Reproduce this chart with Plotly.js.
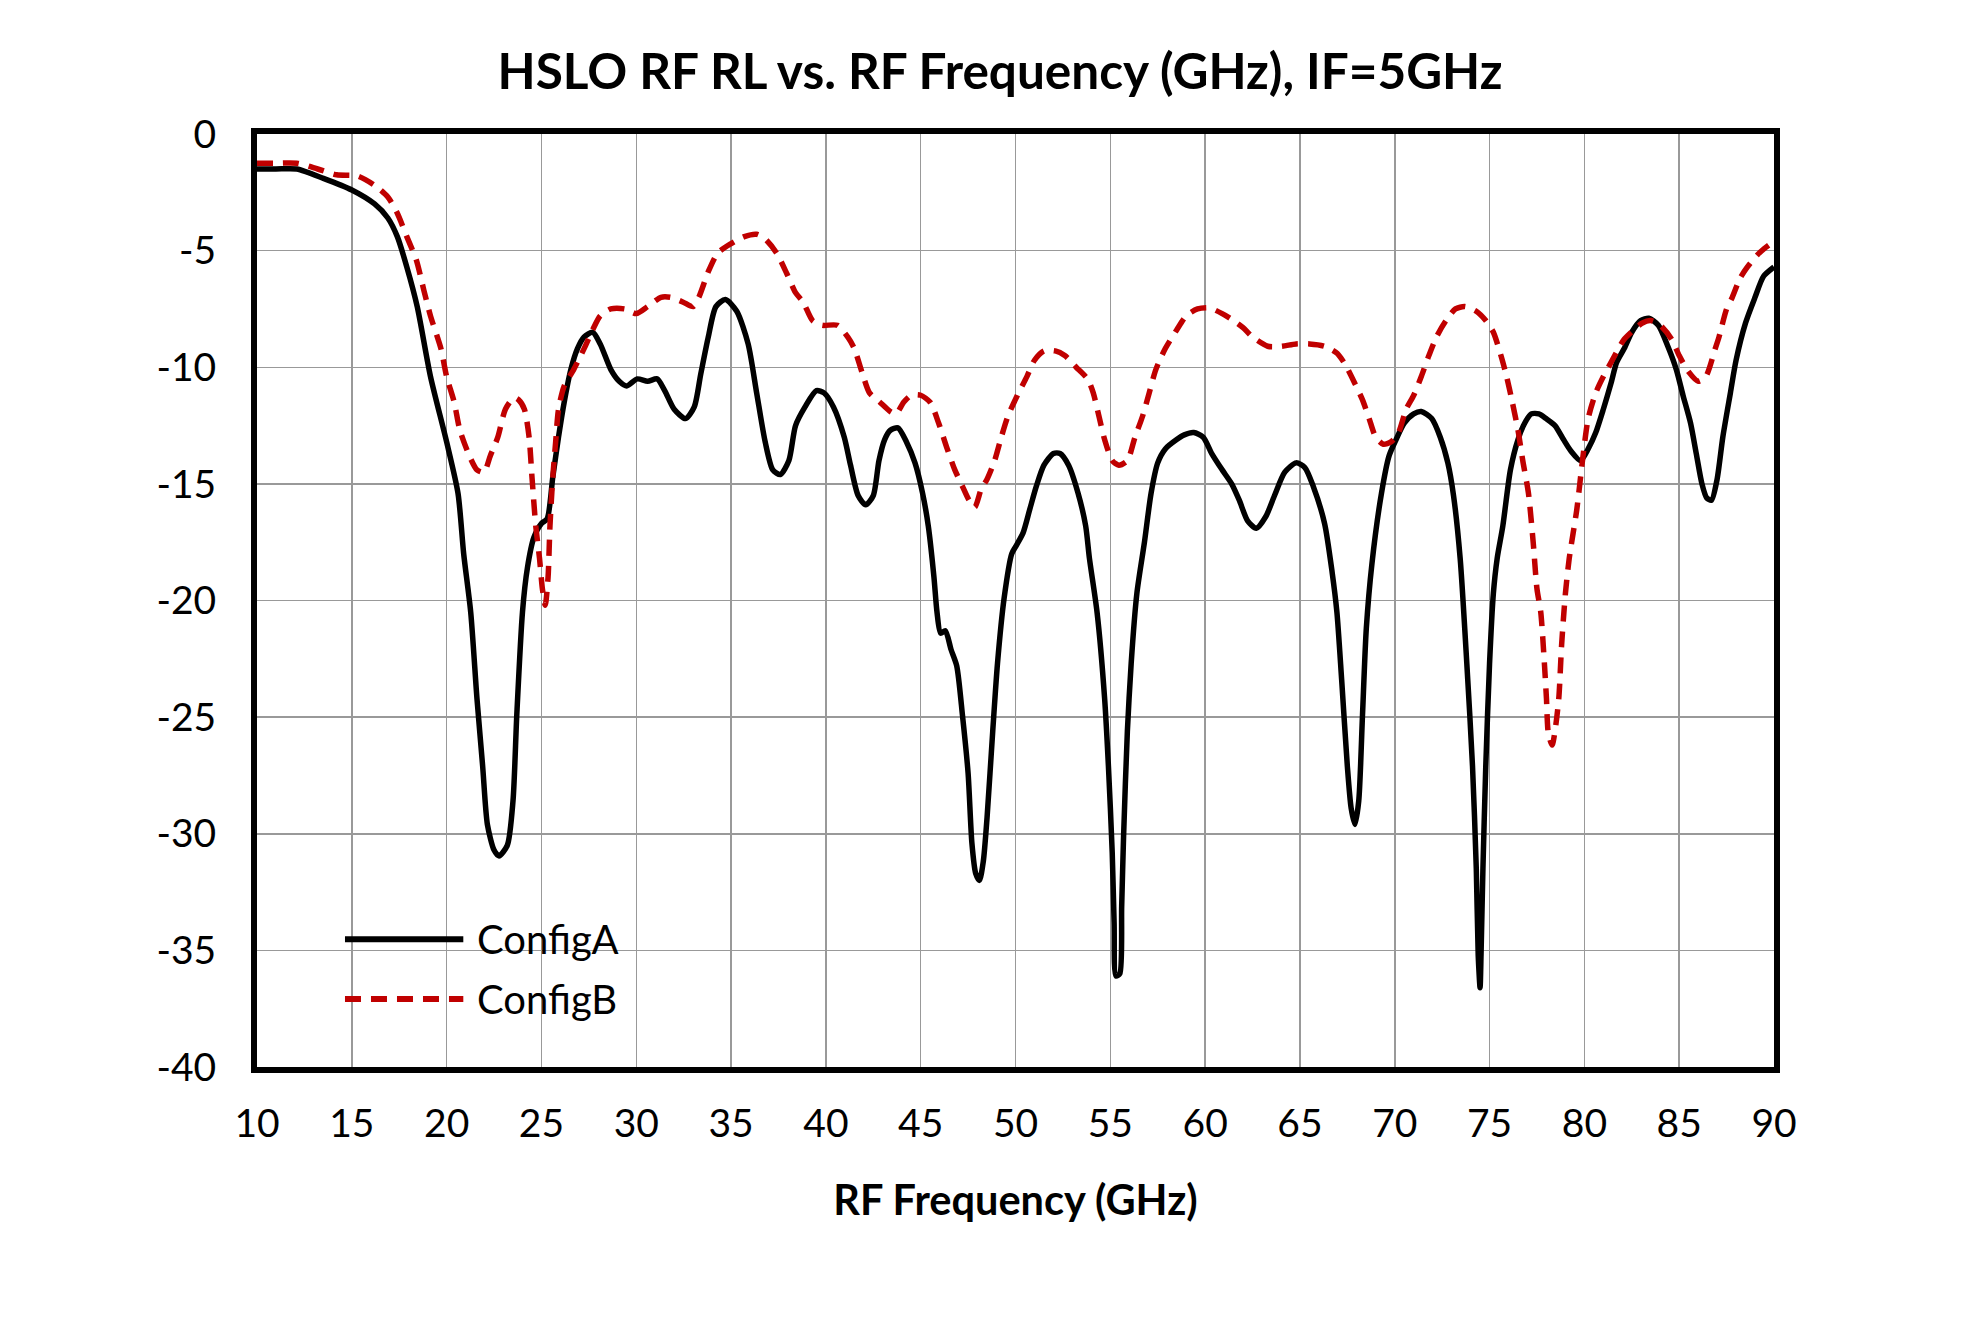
<!DOCTYPE html>
<html>
<head>
<meta charset="utf-8">
<script src="https://cdn.plot.ly/plotly-3.0.1.min.js"></script>
<style>
  html, body { margin: 0; padding: 0; background: #ffffff; }
  #chart { width: 1980px; height: 1320px; }
</style>
</head>
<body>
<div id="chart"></div>
<script>
// RF return loss of the HSLO mixer, two configurations, IF = 5 GHz
const freqA = [10, 11, 12.1, 13.5, 15, 16.2, 16.9, 17.4, 17.9, 18.45, 19.15, 20.0, 20.6, 20.9, 21.27, 21.6, 21.9, 22.15, 22.5, 22.76,
  23.2, 23.5, 23.7, 24.0, 24.26, 24.6, 25.0, 25.3, 25.6, 25.9, 26.2, 26.55, 26.9, 27.25, 27.7, 28.1, 28.66, 29.1, 29.5, 30.05,
  30.6, 31.1, 31.5, 32.0, 32.6, 33.06, 33.4, 33.8, 34.2, 34.7, 35.3, 35.9, 36.35, 36.8, 37.2, 37.6, 38.05, 38.4, 38.9, 39.5,
  39.9, 40.4, 40.97, 41.3, 41.7, 42.1, 42.5, 42.8, 43.1, 43.4, 43.8, 44.25, 44.7, 45.1, 45.4, 45.7, 45.86, 46.05, 46.3, 46.6,
  46.9, 47.2, 47.5, 47.7, 47.9, 48.1, 48.3, 48.5, 48.8, 49.05, 49.4, 49.8, 50.0, 50.4, 50.75, 51.1, 51.5, 52.0, 52.35, 52.8,
  53.3, 53.7, 53.9, 54.3, 54.7, 54.9, 55.1, 55.2, 55.3, 55.5, 55.6, 55.7, 55.9, 56.1, 56.4, 56.8, 57.15, 57.5, 57.9, 58.5,
  58.9, 59.4, 59.9, 60.35, 60.9, 61.4, 61.8, 62.25, 62.7, 63.2, 63.66, 64.2, 64.8, 65.26, 65.7, 66.3, 66.7, 66.95, 67.2, 67.5,
  67.7, 67.9, 68.1, 68.3, 68.5, 68.8, 69.3, 69.7, 70.07, 70.5, 71.0, 71.4, 71.95, 72.4, 72.8, 73.1, 73.45, 73.8, 74.1, 74.3,
  74.4, 74.5, 74.55, 74.65, 74.8, 75.0, 75.2, 75.4, 75.7, 76.1, 76.5, 76.85, 77.2, 77.6, 77.98, 78.45, 78.9, 79.3, 79.8, 80.2,
  80.6, 81.0, 81.4, 81.7, 82.1, 82.5, 82.97, 83.4, 83.9, 84.4, 84.85, 85.2, 85.6, 85.9, 86.2, 86.45, 86.7, 87.0, 87.3, 87.7,
  88.0, 88.5, 89.0, 89.45, 90];
const rlA = [-1.5, -1.5, -1.5, -1.9, -2.4, -3.0, -3.6, -4.4, -5.7, -7.4, -10.4, -13.2, -15.4, -18.0, -20.5, -24.2, -27.1, -29.6, -30.7, -30.95,
  -30.5, -28.6, -24.9, -20.5, -18.6, -17.3, -16.7, -16.5, -14.7, -13.0, -11.5, -10.1, -9.2, -8.7, -8.5, -9.0, -10.1, -10.6, -10.8, -10.5,
  -10.6, -10.5, -11.0, -11.8, -12.2, -11.7, -10.3, -8.7, -7.4, -7.1, -7.6, -9.0, -11.1, -13.2, -14.4, -14.6, -14.0, -12.5, -11.7, -11.0,
  -11.1, -11.7, -13.0, -14.2, -15.5, -15.9, -15.5, -14.0, -13.1, -12.7, -12.6, -13.2, -14.1, -15.4, -16.8, -19.0, -20.5, -21.4, -21.3, -22.1,
  -22.8, -24.9, -27.4, -30.4, -31.7, -32.0, -31.2, -29.3, -25.6, -22.7, -19.9, -18.0, -17.7, -17.1, -16.1, -15.1, -14.2, -13.7, -13.7, -14.2,
  -15.4, -16.8, -18.2, -20.5, -24.2, -27.1, -30.8, -33.8, -36.1, -36.0, -33.1, -30.1, -25.6, -22.7, -19.7, -17.5, -15.4, -14.1, -13.5, -13.1,
  -12.9, -12.8, -13.0, -13.7, -14.4, -15.0, -15.7, -16.6, -16.9, -16.4, -15.5, -14.5, -14.1, -14.3, -15.1, -16.7, -18.8, -20.5, -23.4, -27.1,
  -28.9, -29.6, -28.6, -24.9, -21.2, -18.4, -15.4, -13.8, -13.1, -12.4, -12.0, -11.9, -12.2, -13.0, -14.1, -15.5, -18.2, -22.7, -27.1, -31.5,
  -35.2, -36.6, -35.2, -31.5, -27.1, -22.7, -19.7, -18.2, -16.8, -14.4, -13.1, -12.4, -12.0, -12.0, -12.2, -12.5, -13.1, -13.6, -14.0, -13.5,
  -12.8, -11.8, -10.7, -9.8, -9.2, -8.5, -8.0, -7.9, -8.2, -9.1, -10.1, -11.2, -12.4, -13.7, -15.0, -15.6, -15.7, -14.8, -13.0, -11.1,
  -9.7, -8.1, -7.0, -6.1, -5.7];

const freqB = [10, 11, 12.1, 13.2, 14.2, 15.3, 16.2, 16.9, 17.4, 17.9, 18.4, 18.8, 19.15, 19.7, 20.0, 20.4, 20.7, 21.2, 21.6, 21.97,
  22.3, 22.7, 23.1, 23.55, 23.8, 24.1, 24.35, 24.5, 24.7, 24.9, 25.05, 25.2, 25.35, 25.45, 25.6, 25.75, 25.9, 26.2, 26.7, 27.25,
  27.7, 28.1, 28.66, 29.4, 30.0, 30.6, 31.3, 31.8, 32.45, 33.0, 33.3, 33.8, 34.3, 35.0, 35.7, 36.35, 36.8, 37.4, 37.95, 38.4,
  38.8, 39.3, 39.8, 40.6, 41.15, 41.5, 41.9, 42.3, 42.85, 43.4, 43.7, 44.1, 44.5, 45.0, 45.5, 45.95, 46.4, 46.8, 47.2, 47.55,
  47.85, 48.2, 48.5, 48.9, 49.25, 49.6, 50.1, 50.6, 51.0, 51.5, 52.1, 52.6, 53.2, 53.8, 54.1, 54.4, 54.7, 55.1, 55.45, 55.9,
  56.3, 56.7, 57.05, 57.4, 57.9, 58.5, 59.0, 59.6, 60.2, 60.9, 61.5, 62.0, 62.5, 63.3, 64.0, 64.8, 65.5, 66.3, 66.96, 67.4,
  67.9, 68.3, 68.65, 69.0, 69.4, 69.8, 70.2, 70.6, 71.0, 71.4, 71.8, 72.2, 72.7, 73.2, 73.7, 74.3, 74.8, 75.2, 75.6, 75.9,
  76.2, 76.5, 76.75, 77.05, 77.3, 77.5, 77.7, 77.9, 78.0, 78.1, 78.3, 78.45, 78.65, 78.8, 79.0, 79.2, 79.6, 79.9, 80.2, 80.6,
  81.0, 81.4, 81.8, 82.1, 82.6, 83.06, 83.5, 84.0, 84.6, 85.0, 85.5, 86.0, 86.4, 86.9, 87.1, 87.5, 87.8, 88.2, 88.6, 89.1,
  89.5, 90];
const rlB = [-1.25, -1.25, -1.25, -1.5, -1.75, -1.8, -2.2, -2.7, -3.4, -4.4, -5.4, -6.7, -7.8, -9.2, -10.4, -11.5, -12.7, -13.8, -14.4, -14.5,
  -13.8, -13.0, -11.8, -11.3, -11.4, -11.8, -13.0, -14.7, -16.8, -18.2, -19.5, -20.2, -19.0, -16.8, -14.7, -13.2, -11.8, -10.8, -10.1, -9.2,
  -8.4, -7.8, -7.5, -7.5, -7.7, -7.4, -7.0, -7.0, -7.2, -7.4, -7.0, -5.9, -5.1, -4.7, -4.4, -4.3, -4.5, -5.1, -6.0, -6.8,
  -7.2, -8.0, -8.2, -8.2, -8.7, -9.2, -10.2, -11.1, -11.5, -11.9, -12.0, -11.5, -11.2, -11.2, -11.5, -12.4, -13.5, -14.4, -15.1, -15.7,
  -16.0, -15.2, -14.8, -14.0, -13.0, -12.1, -11.2, -10.4, -9.7, -9.3, -9.3, -9.5, -10.0, -10.5, -11.1, -12.1, -13.1, -14.0, -14.2, -14.0,
  -13.0, -12.1, -11.1, -10.1, -9.2, -8.4, -7.8, -7.5, -7.45, -7.7, -8.0, -8.3, -8.7, -9.1, -9.1, -9.0, -9.0, -9.1, -9.4, -9.9,
  -10.7, -11.4, -12.2, -13.0, -13.3, -13.2, -12.8, -11.8, -11.2, -10.4, -9.5, -8.7, -8.0, -7.5, -7.4, -7.6, -8.0, -8.5, -9.5, -10.4,
  -11.5, -12.7, -14.0, -15.4, -17.5, -19.5, -20.5, -22.8, -24.2, -25.7, -26.2, -25.6, -24.2, -21.9, -19.7, -18.2, -16.1, -14.0, -12.2, -11.1,
  -10.4, -9.8, -9.2, -8.8, -8.4, -8.1, -8.0, -8.2, -8.8, -9.5, -10.2, -10.6, -10.4, -9.2, -8.7, -7.5, -7.0, -6.2, -5.7, -5.2,
  -4.9, -4.6];

const seriesNames = ['ConfigA', 'ConfigB'];
const xTickVals = [10, 15, 20, 25, 30, 35, 40, 45, 50, 55, 60, 65, 70, 75, 80, 85, 90];
const xTickText = ['10', '15', '20', '25', '30', '35', '40', '45', '50', '55', '60', '65', '70', '75', '80', '85', '90'];
const yTickVals = [0, -5, -10, -15, -20, -25, -30, -35, -40];
const yTickText = ['0', '-5', '-10', '-15', '-20', '-25', '-30', '-35', '-40'];

const colorA = '#000000';
const colorB = '#C00000';
const dashB = '16px,10px';
const lineW = 5.5;
const FONT = 'Lato, "Open Sans", Arial, sans-serif';

const traces = [
  {
    x: freqA, y: rlA, name: seriesNames[0], type: 'scatter', mode: 'lines',
    line: { color: colorA, width: lineW, shape: 'spline', smoothing: 0.7 },
    showlegend: false
  },
  {
    x: freqB, y: rlB, name: seriesNames[1], type: 'scatter', mode: 'lines',
    line: { color: colorB, width: lineW, dash: dashB, shape: 'spline', smoothing: 0.7 },
    showlegend: false
  }
];

// in-plot key: long line samples with labels, lower-left corner
const keyX0 = 0.058, keyX1 = 0.136, keyTextX = 0.144;
const keyY = [0.137, 0.073];
const shapes = [
  { type: 'line', xref: 'paper', yref: 'paper', x0: keyX0, x1: keyX1, y0: keyY[0], y1: keyY[0],
    line: { color: colorA, width: lineW + 0.5 } },
  { type: 'line', xref: 'paper', yref: 'paper', x0: keyX0, x1: keyX1, y0: keyY[1], y1: keyY[1],
    line: { color: colorB, width: lineW + 0.5, dash: dashB } }
];
const annotations = seriesNames.map((n, i) => ({
  xref: 'paper', yref: 'paper', x: keyTextX, y: keyY[i], xanchor: 'left', yanchor: 'middle',
  text: n, showarrow: false, font: { family: FONT, size: 40, color: '#000000' }
}));

const layout = {
  width: 1980, height: 1320,
  paper_bgcolor: '#ffffff', plot_bgcolor: '#ffffff',
  margin: { l: 257, r: 206, t: 134, b: 253, pad: 0 },
  title: {
    text: '<b>HSLO RF RL vs. RF Frequency (GHz), IF=5GHz</b>',
    font: { family: FONT, size: 49.5, color: '#000000' },
    xref: 'container', yref: 'container', x: 1000 / 1980, xanchor: 'center',
    y: 1 - 72 / 1320, yanchor: 'middle'
  },
  xaxis: {
    range: [10, 90], tickmode: 'array', tickvals: xTickVals, ticktext: xTickText,
    showgrid: true, gridcolor: '#999999', gridwidth: 1.5, zeroline: false,
    showline: true, mirror: true, linecolor: '#000000', linewidth: 6,
    ticks: '', ticklabelstandoff: 17,
    tickfont: { family: FONT, size: 39, color: '#000000' },
    title: { text: '<b>RF Frequency (GHz)</b>', font: { family: FONT, size: 41.5, color: '#000000' }, standoff: 44 }
  },
  yaxis: {
    range: [-40, 0], tickmode: 'array', tickvals: yTickVals, ticktext: yTickText,
    showgrid: true, gridcolor: '#999999', gridwidth: 1.5, zeroline: false,
    showline: true, mirror: true, linecolor: '#000000', linewidth: 6,
    ticks: '', ticklabelstandoff: 27,
    tickfont: { family: FONT, size: 39, color: '#000000' }
  },
  shapes: shapes,
  annotations: annotations,
  showlegend: false
};

Plotly.newPlot('chart', traces, layout, { staticPlot: true, displayModeBar: false });
</script>
</body>
</html>
